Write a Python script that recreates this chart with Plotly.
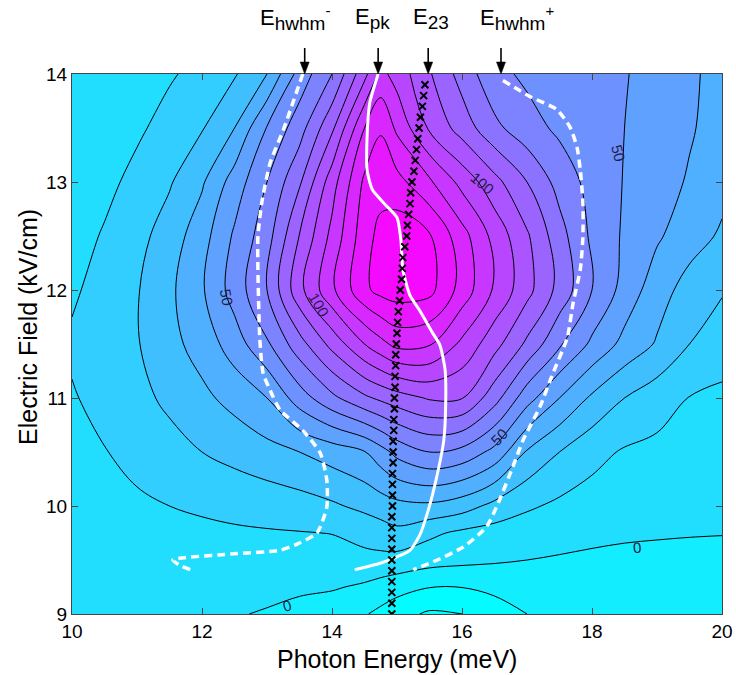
import plotly.graph_objects as go

# ---------------- data ----------------
photon_energy = [10, 10.5, 11, 11.5, 12, 12.5, 13, 13.5, 14, 14.5, 14.75, 15,
                 15.5, 16, 16.5, 17, 17.5, 18, 18.5, 19, 19.5, 20]
electric_field = [9.0, 9.25, 9.5, 9.75, 10.0, 10.5, 11.0, 11.5, 12.0, 12.5, 13.0, 13.5, 14.0]

signal = [
    [3, 2.5, 2, 1.5, 1, 0.5, -0.6, -3, -6, -9.2, -12.5, -16.5, -21.5, -20, -14, -10, -8, -7, -6.5, -6, -5.8, -5.6],
    [3.5, 3, 2.6, 2.3, 2.1, 2.0, 2.0, 1.6, 1.0, -1.5, -3.8, -6, -9.7, -9.8, -8, -6, -5, -4.5, -4.3, -4.2, -4.2, -4.2],
    [4, 4.5, 5, 5.3, 5.5, 5.7, 5.8, 6, 6.5, 7.5, 7.2, 6.5, 4, 2.5, 1.2, 0, -0.8, -1.5, -2, -2.3, -2.6, -2.8],
    [4.5, 5.5, 6.5, 7.5, 8.2, 8.8, 9.2, 9.6, 10.2, 13, 15.3, 17.5, 12, 8, 6, 4.5, 3.2, 2, 1.2, 0.8, 0.5, 0.3],
    [5.5, 7, 8.3, 10, 11.2, 12.5, 14, 15.8, 18.5, 22.5, 24.8, 27, 28, 24.5, 17, 11.5, 8, 6, 4.5, 3.5, 2.7, 2],
    [8, 9.6, 13.1, 16.6, 20, 23.3, 26.7, 30, 34.5, 39.5, 46, 53, 60, 57, 47, 29, 20, 13, 9, 7.5, 6.5, 5.5],
    [9.2, 13, 17.3, 22, 27.7, 33.3, 40, 55, 67.5, 78, 82, 85.5, 91, 90.5, 74, 54, 40, 28.3, 20, 14.5, 9.7, 8.3],
    [11.5, 14, 19.3, 27, 34, 45, 58.6, 76, 93.3, 110, 117, 123, 121, 107.8, 93.7, 78, 61.4, 48, 37, 29, 20, 14],
    [8.5, 13.8, 19.3, 27.9, 38.8, 54.4, 70, 97, 118, 138, 143, 145, 143, 126, 108.6, 93.3, 76.7, 60, 46.3, 34.4, 26, 21],
    [6, 10.9, 16.8, 24.6, 35.9, 51.5, 65.8, 90.4, 112.9, 136, 143, 146, 141, 124, 106.7, 91.4, 74, 58, 48.6, 41.4, 34.3, 28.6],
    [5, 7.5, 12.7, 19, 28.7, 44.5, 60, 78.6, 105.6, 132, 136, 133.5, 121.7, 106.7, 93.3, 80, 66.2, 56.4, 49.5, 44.2, 39, 33],
    [4.5, 6.5, 8.5, 13.3, 19.3, 30, 50.6, 65.7, 88, 120, 129, 118, 98.5, 85.7, 72.5, 64, 58, 54, 50, 45.5, 41, 36],
    [4, 6, 7.5, 9, 12.8, 19, 30, 54, 70, 97, 113, 106, 91, 76, 63, 58, 55.5, 53, 50.6, 46.4, 41.5, 37],
]

# E_pk (solid white)
pk_field = [14.0, 13.73, 13.42, 13.11, 12.93, 12.79, 12.67, 12.46, 12.19, 11.95, 11.81, 11.61, 11.49,
            11.26, 10.98, 10.61, 10.24, 9.96, 9.73, 9.59, 9.53, 9.47, 9.41]
pk_energy = [14.71, 14.58, 14.54, 14.54, 14.62, 14.82, 15.0, 15.06, 15.09, 15.2, 15.35, 15.54, 15.66,
             15.74, 15.75, 15.72, 15.6, 15.48, 15.35, 15.2, 15.0, 14.74, 14.35]

# E_hwhm- (dashed white, low side)
hwm_field = [14.0, 13.48, 13.18, 12.81, 12.49, 12.19, 11.54, 11.23, 11.07, 10.89, 10.7, 10.49, 10.24,
             9.99, 9.75, 9.66, 9.59, 9.56, 9.52, 9.5, 9.45, 9.41]
hwm_energy = [13.55, 13.25, 13.05, 12.92, 12.86, 12.86, 12.89, 12.94, 13.05, 13.2, 13.55, 13.82, 13.92,
              13.92, 13.77, 13.51, 13.2, 12.54, 11.71, 11.55, 11.66, 11.82]

# E_hwhm+ (dashed white, high side)
hwp_field = [13.94, 13.79, 13.67, 13.51, 13.32, 13.11, 12.81, 12.49, 12.19, 11.88, 11.56, 11.23, 10.92,
             10.61, 10.36, 10.06, 9.81, 9.62, 9.5, 9.41]
hwp_energy = [16.63, 17.05, 17.46, 17.66, 17.77, 17.82, 17.86, 17.86, 17.82, 17.71, 17.62, 17.4, 17.2,
              16.94, 16.78, 16.58, 16.38, 16.02, 15.62, 15.25]

# E_23 (black x markers)
e23_field = [13.9, 13.8, 13.7, 13.6, 13.5, 13.4, 13.3, 13.2, 13.1, 13.0, 12.9, 12.8, 12.7, 12.6, 12.5,
             12.4, 12.3, 12.2, 12.1, 12.0, 11.9, 11.8, 11.7, 11.6, 11.5, 11.4, 11.3, 11.2, 11.1, 11.0,
             10.9, 10.8, 10.7, 10.6, 10.5, 10.4, 10.3, 10.2, 10.1, 10.0, 9.9, 9.8, 9.7, 9.6, 9.5,
             9.4, 9.3, 9.2, 9.1, 9.0]
e23_energy = [15.43, 15.41, 15.39, 15.36, 15.34, 15.32, 15.30, 15.28, 15.26, 15.23, 15.21, 15.20, 15.18,
              15.16, 15.15, 15.12, 15.09, 15.08, 15.07, 15.05, 15.04, 15.02, 15.01, 15.00, 14.99,
              14.98, 14.98, 14.97, 14.97, 14.96, 14.96, 14.95, 14.95, 14.94, 14.94, 14.94, 14.93,
              14.93, 14.93, 14.93, 14.92, 14.92, 14.92, 14.92, 14.92, 14.92, 14.92, 14.92, 14.92, 14.92]

# top markers
marker_names = [
    "E<sub><span style='font-size:19px'>hwhm</span></sub><sup><span style='font-size:15px'>-</span></sup>",
    "E<sub><span style='font-size:19px'>pk</span></sub>",
    "E<sub><span style='font-size:19px'>23</span></sub>",
    "E<sub><span style='font-size:19px'>hwhm</span></sub><sup><span style='font-size:15px'>+</span></sup>",
]
marker_energy = [13.58, 14.71, 15.48, 16.6]
marker_text_shift = [-47, -25, -17, -23]

# contour labels (text, energy, field, angle)
clabel_text = ["50", "100", "100", "50", "50", "0", "0"]
clabel_x = [12.38, 13.8, 16.32, 18.4, 16.58, 13.31, 18.69]
clabel_y = [11.93, 11.87, 12.99, 13.27, 10.64, 9.08, 9.62]
clabel_angle = [80, 60, 40, 75, -45, -15, -5]

x_ticks = [10, 12, 14, 16, 18, 20]
y_ticks = [9, 10, 11, 12, 13, 14]

FONT = "Liberation Sans, Arial, sans-serif"
PLOT_L, PLOT_R, PLOT_T, PLOT_B = 72, 722, 74, 614

fig = go.Figure()

fig.add_trace(go.Contour(
    x=photon_energy, y=electric_field, z=signal,
    contours=dict(start=-20, end=140, size=10, coloring="fill", showlines=True),
    line=dict(color="black", width=1.0, smoothing=1.0),
    colorscale=[[0, "rgb(0,255,255)"], [8 / 170, "rgb(0,255,255)"], [1, "rgb(246,9,255)"]],
    showscale=False, hoverinfo="skip",
))

fig.add_trace(go.Scatter(x=pk_energy, y=pk_field, mode="lines",
                         line=dict(color="white", width=3, shape="spline", smoothing=0.6),
                         hoverinfo="skip", showlegend=False))
fig.add_trace(go.Scatter(x=hwm_energy, y=hwm_field, mode="lines",
                         line=dict(color="white", width=3.5, dash="8px,5px", shape="spline", smoothing=0.6),
                         hoverinfo="skip", showlegend=False))
fig.add_trace(go.Scatter(x=hwp_energy, y=hwp_field, mode="lines",
                         line=dict(color="white", width=3.5, dash="8px,5px", shape="spline", smoothing=0.6),
                         hoverinfo="skip", showlegend=False))
fig.add_trace(go.Scatter(x=e23_energy, y=e23_field, mode="markers",
                         marker=dict(symbol="x-thin", size=7, line=dict(color="black", width=2)),
                         hoverinfo="skip", showlegend=False))

plot_h = PLOT_B - PLOT_T
plot_w = PLOT_R - PLOT_L


def py2paper(py):
    return (PLOT_B - py) / plot_h


def px2paper(px):
    return (px - PLOT_L) / plot_w


annotations = []
for t, xv, yv, ang in zip(clabel_text, clabel_x, clabel_y, clabel_angle):
    annotations.append(dict(x=xv, y=yv, xref="x", yref="y", text=t, showarrow=False,
                            textangle=ang, font=dict(family=FONT, size=15, color="#1e1e48")))

shapes = []
half_w = 4.5 / plot_w * 10  # arrow head half width in data units (10 meV span)
for name, ev, sh in zip(marker_names, marker_energy, marker_text_shift):
    shapes.append(dict(type="line", xref="x", yref="paper", x0=ev, x1=ev,
                       y0=py2paper(48), y1=py2paper(64), line=dict(color="black", width=1.6)))
    shapes.append(dict(type="path", xref="x", yref="paper",
                       path=f"M {ev - half_w},{py2paper(62)} L {ev + half_w},{py2paper(62)} L {ev},{py2paper(74)} Z",
                       fillcolor="black", line=dict(color="black", width=0.5)))
    annotations.append(dict(x=ev, y=py2paper(18), xref="x", yref="paper", text=name, showarrow=False,
                            xshift=sh, xanchor="left", yanchor="middle",
                            font=dict(family=FONT, size=22, color="black")))

annotations.append(dict(x=0.5, y=py2paper(659), xref="paper", yref="paper", showarrow=False,
                        text="Photon Energy (meV)", xanchor="center", yanchor="middle",
                        font=dict(family=FONT, size=25, color="black")))
annotations.append(dict(x=px2paper(28), y=py2paper(327), xref="paper", yref="paper", showarrow=False,
                        text="Electric Field (kV/cm)", textangle=-90, xanchor="center", yanchor="middle",
                        font=dict(family=FONT, size=25, color="black")))

fig.update_layout(
    width=736, height=675,
    margin=dict(l=PLOT_L, r=736 - PLOT_R, t=PLOT_T, b=675 - PLOT_B, autoexpand=False),
    paper_bgcolor="white", plot_bgcolor="white",
    showlegend=False,
    annotations=annotations,
    shapes=shapes,
    font=dict(family=FONT, color="black"),
)
fig.update_xaxes(range=[10, 20], tickvals=x_ticks, ticks="inside", ticklen=6, tickcolor="#444",
                 showline=True, linecolor="#444", linewidth=1, mirror="ticks", showgrid=False,
                 zeroline=False, automargin=False, ticklabelstandoff=0,
                 tickfont=dict(family=FONT, size=19, color="black"))
fig.update_yaxes(range=[9, 14], tickvals=y_ticks, ticks="inside", ticklen=6, tickcolor="#444",
                 showline=True, linecolor="#444", linewidth=1, mirror="ticks", showgrid=False,
                 zeroline=False, automargin=False, tickfont=dict(family=FONT, size=19, color="black"))

fig.write_html("out.html")
